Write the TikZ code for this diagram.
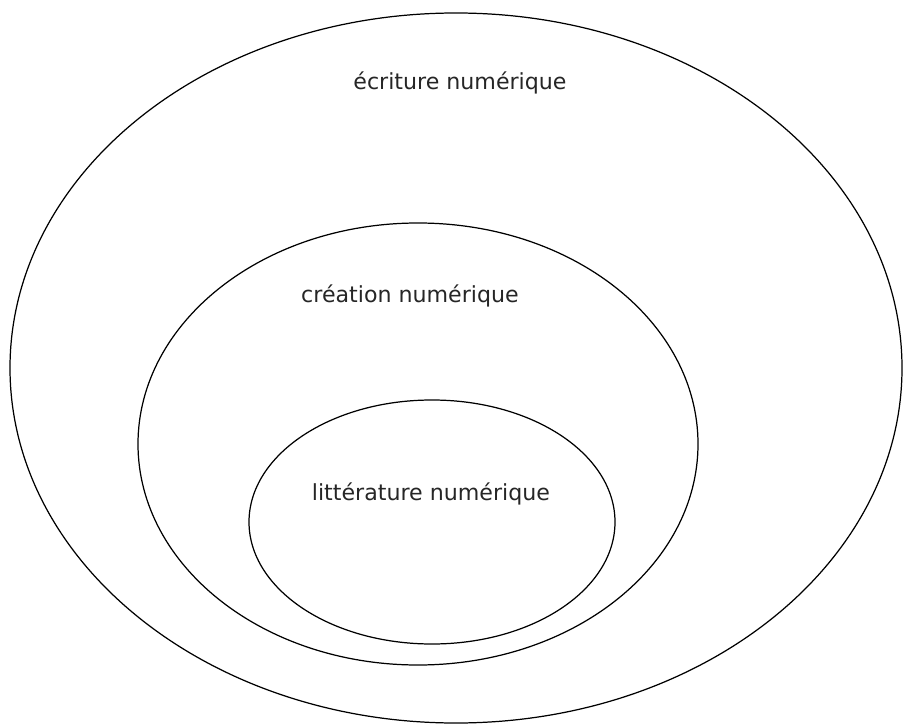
\documentclass[tikz,border=0pt]{standalone}
\usepackage{fontspec}
\setmainfont{DejaVu Sans}
\usepackage{tikz}
\def\lbl{node[font=\fontsize{12.6}{15}\selectfont, color=black!85]}

\begin{document}
\begin{tikzpicture}[x=0.02cm, y=-0.02cm, line width=0.7pt]
        \useasboundingbox (0,0) rectangle (909,726);
        \coordinate (ecr) at (456,368);
        \coordinate (cre) at (418,444);
        \coordinate (lit) at (432,522);
        \draw (ecr) ellipse [x radius=446, y radius=355];
        \draw (cre) ellipse [x radius=280, y radius=221];
        \draw (lit) ellipse [x radius=183, y radius=122];
        \path (460,83) \lbl (tecr) {écriture numérique};
        \path (410,296) \lbl (tcre) {création numérique};
        \path (431,494) \lbl (tlit) {littérature numérique};
      \end{tikzpicture}
\end{document}
